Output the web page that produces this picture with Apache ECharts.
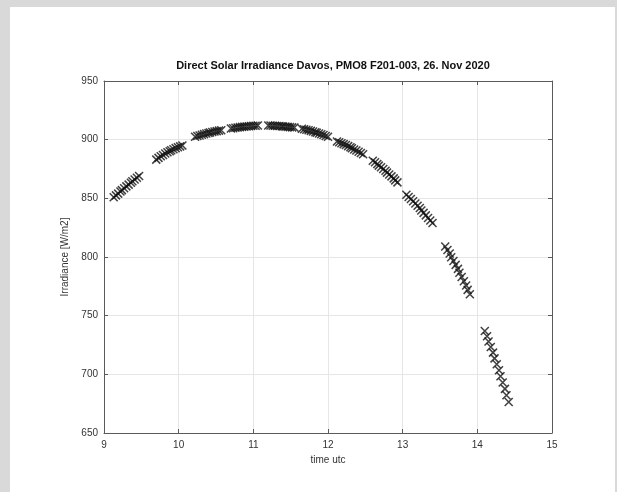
<!DOCTYPE html>
<html>
<head>
<meta charset="utf-8">
<script src="https://cdn.jsdelivr.net/npm/echarts@6/dist/echarts.min.js"></script>
<style>
  html, body { margin: 0; padding: 0; background: #d9d9d9; }
  #chart { width: 617px; height: 492px; }
</style>
</head>
<body>
<div id="chart"></div>
<script>
// time (utc hours) and irradiance (W/m2), one line per measurement block
const times = [
  9.13, 9.16, 9.19, 9.22, 9.24, 9.27, 9.30, 9.33, 9.36, 9.38, 9.41, 9.44, 9.47,
  9.70, 9.73, 9.76, 9.79, 9.82, 9.85, 9.88, 9.90, 9.93, 9.96, 9.99, 10.02, 10.05,
  10.22, 10.25, 10.28, 10.31, 10.34, 10.37, 10.40, 10.42, 10.45, 10.48, 10.51, 10.54, 10.57,
  10.70, 10.73, 10.76, 10.79, 10.82, 10.85, 10.88, 10.91, 10.94, 10.97, 11.00, 11.03, 11.06,
  11.20, 11.23, 11.26, 11.29, 11.32, 11.35, 11.38, 11.40, 11.43, 11.46, 11.49, 11.52, 11.55,
  11.65, 11.68, 11.71, 11.74, 11.77, 11.80, 11.83, 11.85, 11.88, 11.91, 11.94, 11.97, 12.00,
  12.12, 12.15, 12.18, 12.21, 12.24, 12.27, 12.30, 12.32, 12.35, 12.38, 12.41, 12.44, 12.47,
  12.60, 12.63, 12.66, 12.68, 12.71, 12.74, 12.77, 12.79, 12.82, 12.85, 12.88, 12.90, 12.93,
  13.05, 13.08, 13.11, 13.14, 13.17, 13.20, 13.23, 13.25, 13.28, 13.31, 13.34, 13.37, 13.40,
  13.57, 13.60, 13.63, 13.65, 13.68, 13.71, 13.74, 13.76, 13.79, 13.82, 13.85, 13.87, 13.90,
  14.10, 14.13, 14.15, 14.18, 14.21, 14.23, 14.26, 14.29, 14.31, 14.34, 14.37, 14.39, 14.42
];
const irradiance = [
  851, 852.5, 854, 855.8, 857, 858.6, 860.2, 861.7, 863.3, 864.5, 866, 867.6, 869,
  883, 884.5, 885.8, 887, 888.2, 889.3, 890.2, 891, 891.9, 892.8, 893.6, 894.3, 895,
  902.5, 903.1, 903.6, 904.2, 904.7, 905.2, 905.7, 906.1, 906.5, 906.9, 907.3, 907.7, 908,
  909.5, 909.8, 910.1, 910.4, 910.7, 910.9, 911.1, 911.3, 911.5, 911.6, 911.8, 911.9, 912,
  912, 912, 911.9, 911.8, 911.7, 911.6, 911.4, 911.3, 911.1, 910.9, 910.7, 910.5, 910.3,
  909.3, 908.9, 908.5, 908, 907.5, 907, 906.4, 905.9, 905.2, 904.6, 903.9, 903.2, 902.5,
  898.5, 897.8, 897, 896.2, 895.4, 894.5, 893.6, 892.7, 891.7, 890.7, 889.7, 888.6, 887.5,
  882, 880.7, 879.3, 877.9, 876.5, 875, 873.5, 871.9, 870.3, 868.7, 867, 865.3, 863.6,
  853, 851.2, 849.4, 847.5, 845.6, 843.7, 841.7, 839.7, 837.6, 835.5, 833.3, 831.1, 828.9,
  809, 806, 803, 799.8, 796.6, 793.3, 789.9, 786.5, 783, 779.4, 775.7, 772, 768.2,
  737, 732.5, 728, 723.3, 718.5, 713.6, 708.6, 703.5, 698.3, 693, 687.6, 682.1, 676.5
];
const xTicks = [9, 10, 11, 12, 13, 14, 15];
const yTicks = [650, 700, 750, 800, 850, 900, 950];

const FONT = '"Liberation Sans", Arial, sans-serif';
const AXIS_COLOR = '#5a5a5a';
const GRID_COLOR = '#e6e6e6';

const points = times.map((t, i) => [t, irradiance[i]]);

const chart = echarts.init(document.getElementById('chart'));

// shared axis look (matlab-like box with inward ticks)
const baseAxis = {
  type: 'value',
  axisLine: { show: true, onZero: false, lineStyle: { color: AXIS_COLOR, width: 1 } },
  axisTick: { show: true, inside: true, length: 4, lineStyle: { color: AXIS_COLOR } },
  axisLabel: { color: '#333', fontFamily: FONT, fontSize: 10 }
};

chart.setOption({
  backgroundColor: '#d9d9d9',
  animation: false,
  graphic: [
    {
      type: 'rect',
      z: -10,
      shape: { x: 10, y: 7, width: 605, height: 485 },
      style: { fill: '#ffffff' }
    }
  ],
  title: {
    text: 'Direct Solar Irradiance Davos, PMO8 F201-003, 26. Nov 2020',
    left: 328,
    textAlign: 'center',
    top: 55,
    textStyle: { fontFamily: FONT, fontSize: 11, fontWeight: 'bold', color: '#111' }
  },
  grid: { left: 104, right: 65, top: 81, bottom: 59 },
  xAxis: [
    Object.assign({}, baseAxis, {
      min: xTicks[0],
      max: xTicks[xTicks.length - 1],
      interval: 1,
      name: 'time utc',
      nameLocation: 'middle',
      nameGap: 18,
      nameTextStyle: { color: '#333', fontFamily: FONT, fontSize: 10 },
      axisLabel: Object.assign({}, baseAxis.axisLabel, { margin: 7 }),
      splitLine: { show: true, lineStyle: { color: GRID_COLOR } }
    }),
    Object.assign({}, baseAxis, {
      position: 'top',
      min: xTicks[0],
      max: xTicks[xTicks.length - 1],
      interval: 1,
      axisLabel: { show: false },
      splitLine: { show: false }
    })
  ],
  yAxis: [
    Object.assign({}, baseAxis, {
      min: yTicks[0],
      max: yTicks[yTicks.length - 1],
      interval: 50,
      name: 'Irradiance [W/m2]',
      nameLocation: 'middle',
      nameGap: 28,
      nameRotate: 90,
      nameTextStyle: { color: '#333', fontFamily: FONT, fontSize: 10 },
      axisLabel: Object.assign({}, baseAxis.axisLabel, { margin: 6 }),
      splitLine: { show: true, lineStyle: { color: GRID_COLOR } }
    }),
    Object.assign({}, baseAxis, {
      position: 'right',
      min: yTicks[0],
      max: yTicks[yTicks.length - 1],
      interval: 50,
      axisLabel: { show: false },
      splitLine: { show: false }
    })
  ],
  series: [
    {
      type: 'scatter',
      data: points,
      symbol: 'path://M0,0L10,10M10,0L0,10',
      symbolSize: 8,
      itemStyle: { color: 'rgba(0,0,0,0)', borderColor: '#111', borderWidth: 1.5 }
    }
  ]
});
</script>
</body>
</html>
